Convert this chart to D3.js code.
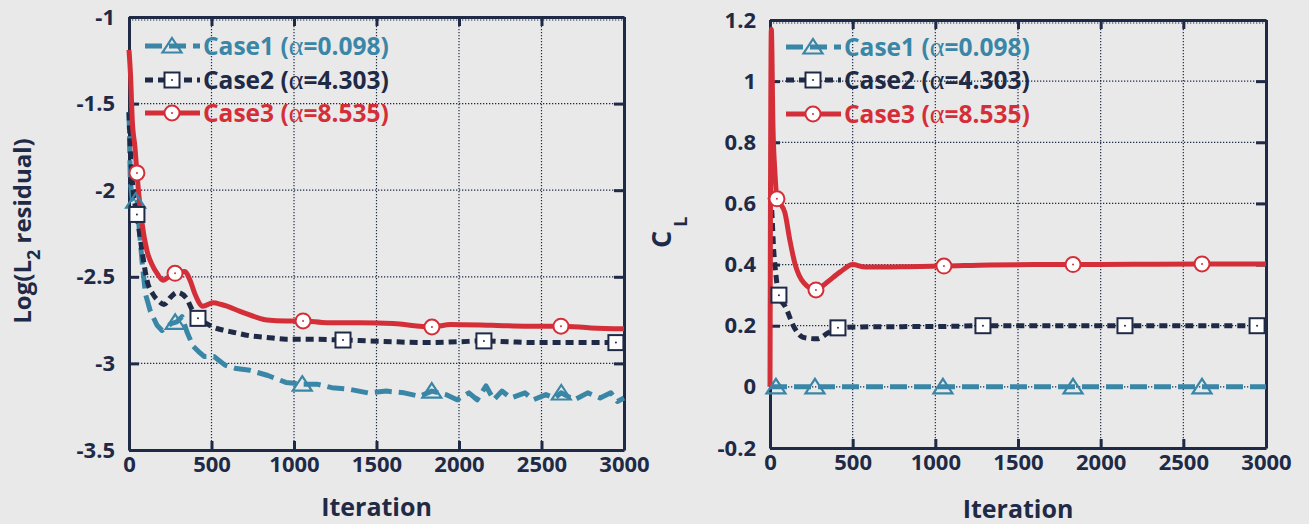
<!DOCTYPE html>
<html><head><meta charset="utf-8">
<script src="https://cdn.jsdelivr.net/npm/d3@7"></script>
<style>
html,body{margin:0;padding:0;background:#e9e9e9;}
svg text{font-family:"Open Sans","Noto Sans",sans-serif;font-weight:700;}
</style></head>
<body>
<svg id="chart" width="1309" height="524"></svg>
<script>
// ---------- data ----------
const iterTicks = [0, 500, 1000, 1500, 2000, 2500, 3000];
const resTicks = [-3.5, -3, -2.5, -2, -1.5, -1];
const clTicks = [-0.2, 0, 0.2, 0.4, 0.6, 0.8, 1, 1.2];
const caseNames = ["Case1", "Case2", "Case3"];
const caseAlphas = ["0.098", "4.303", "8.535"];

// Left panel: Log(L2 residual)
const res1Iter = [0, 8, 20, 36, 48, 60, 80, 100, 130, 170, 200, 230, 255, 290, 321, 352, 388, 420, 455, 515, 582, 650, 733, 842, 951, 1050, 1140, 1230, 1340, 1448, 1560, 1667, 1760, 1835, 1920, 1988, 2060, 2110, 2164, 2210, 2260, 2315, 2400, 2450, 2527, 2580, 2618, 2700, 2780, 2855, 2920, 2960, 3000];
const res1Val = [-1.55, -1.95, -2.05, -2.07, -2.05, -2.2, -2.42, -2.6, -2.7, -2.78, -2.81, -2.79, -2.77, -2.76, -2.73, -2.82, -2.90, -2.93, -2.96, -2.96, -3.01, -3.03, -3.04, -3.07, -3.11, -3.12, -3.12, -3.14, -3.15, -3.17, -3.16, -3.17, -3.19, -3.16, -3.18, -3.21, -3.17, -3.21, -3.13, -3.21, -3.16, -3.20, -3.17, -3.21, -3.18, -3.20, -3.17, -3.21, -3.17, -3.20, -3.17, -3.22, -3.20];
const res2Iter = [0, 10, 25, 48, 79, 109, 145, 180, 212, 250, 291, 345, 388, 418, 470, 509, 580, 630, 730, 836, 950, 1050, 1297, 1450, 1600, 1800, 2000, 2151, 2300, 2450, 2600, 2800, 2951, 3000];
const res2Val = [-1.55, -1.8, -2.0, -2.14, -2.35, -2.52, -2.6, -2.64, -2.66, -2.62, -2.59, -2.62, -2.70, -2.74, -2.77, -2.79, -2.81, -2.82, -2.84, -2.85, -2.86, -2.86, -2.865, -2.87, -2.875, -2.88, -2.875, -2.87, -2.875, -2.88, -2.88, -2.88, -2.88, -2.875];
const res3Iter = [0, 10, 20, 36, 48, 79, 109, 140, 170, 206, 240, 279, 339, 370, 400, 448, 509, 560, 594, 673, 760, 836, 950, 1055, 1200, 1400, 1600, 1836, 1950, 2200, 2400, 2618, 2800, 3000];
const res3Val = [-1.19, -1.35, -1.6, -1.75, -1.90, -2.19, -2.35, -2.43, -2.48, -2.52, -2.50, -2.48, -2.47, -2.52, -2.60, -2.67, -2.65, -2.66, -2.67, -2.70, -2.73, -2.75, -2.755, -2.755, -2.765, -2.765, -2.77, -2.79, -2.775, -2.78, -2.785, -2.785, -2.795, -2.80];
const res1Marks = [40, 280, 1050, 1835, 2620];
const res2Marks = [48, 418, 1297, 2151, 2951];
const res3Marks = [48, 279, 1055, 1836, 2618];

// Right panel: CL
const cl1Iter = [0, 3000];
const cl1Val = [0, 0];
const cl2Iter = [0, 10, 22, 35, 54, 95, 145, 197, 250, 285, 350, 411, 535, 800, 1100, 1288, 1700, 2147, 2600, 2946, 3000];
const cl2Val = [0.62, 0.58, 0.45, 0.37, 0.30, 0.26, 0.196, 0.163, 0.158, 0.157, 0.176, 0.193, 0.196, 0.197, 0.198, 0.20, 0.20, 0.20, 0.20, 0.20, 0.20];
const cl3Iter = [0, 8, 18, 30, 42, 60, 90, 120, 150, 205, 278, 340, 425, 500, 575, 700, 835, 1052, 1330, 1600, 1833, 2200, 2613, 3000];
const cl3Val = [0.0, 1.17, 0.85, 0.70, 0.615, 0.60, 0.57, 0.48, 0.405, 0.34, 0.317, 0.34, 0.376, 0.40, 0.392, 0.392, 0.393, 0.395, 0.399, 0.40, 0.40, 0.401, 0.402, 0.402];
const cl1Marks = [36, 272, 1046, 1833, 2613];
const cl2Marks = [54, 411, 1288, 2147, 2946];
const cl3Marks = [42, 278, 1052, 1833, 2613];

// ---------- style ----------
const NAVY = "#1f2a46", TEAL = "#3a86a6", RED = "#d42f38";
const colors = [TEAL, NAVY, RED];
const dashes = ["17,7", "8,5", null];

const svg = d3.select("#chart");

function interp(xs, ys, t) {
  const i = d3.bisectRight(xs, t);
  if (i <= 0) return ys[0];
  if (i >= xs.length) return ys[ys.length - 1];
  const f = (t - xs[i - 1]) / (xs[i] - xs[i - 1]);
  return ys[i - 1] + f * (ys[i] - ys[i - 1]);
}

function drawMarker(g, kind, cx, cy, color) {
  const m = g.append("g").attr("transform", `translate(${cx},${cy})`);
  if (kind === 0) {
    m.append("path").attr("d", "M0,-8L9.5,6.5L-9.5,6.5Z")
      .attr("fill", "none").attr("stroke", color).attr("stroke-width", 2.2);
  } else if (kind === 1) {
    m.append("rect").attr("x", -7.5).attr("y", -7.5).attr("width", 15).attr("height", 15)
      .attr("fill", "#fff").attr("stroke", color).attr("stroke-width", 2);
    m.append("circle").attr("r", 1).attr("fill", color);
  } else {
    m.append("circle").attr("r", 7.5).attr("fill", "#fff").attr("stroke", color).attr("stroke-width", 2);
    m.append("circle").attr("r", 1).attr("fill", color);
  }
}

function panel(cfg) {
  const x = d3.scaleLinear().domain([0, 3000]).range([cfg.x0, cfg.x1]);
  const y = d3.scaleLinear().domain([cfg.yTicks[0], cfg.yTicks[cfg.yTicks.length - 1]]).range([cfg.y1, cfg.y0]);
  const g = svg.append("g");

  // grid
  const grid = g.append("g").attr("stroke", NAVY).attr("stroke-width", 1.2).attr("stroke-dasharray", "1.3,1.7");
  grid.selectAll("line.v").data(iterTicks.slice(1)).join("line")
    .attr("x1", d => x(d)).attr("x2", d => x(d)).attr("y1", cfg.y0).attr("y2", cfg.y1);
  grid.selectAll("line.h").data(cfg.yTicks.slice(1)).join("line")
    .attr("y1", d => y(d) + (d === cfg.yTicks[cfg.yTicks.length - 1] ? 3 : 0))
    .attr("y2", d => y(d) + (d === cfg.yTicks[cfg.yTicks.length - 1] ? 3 : 0))
    .attr("x1", cfg.x0).attr("x2", cfg.x1);

  // axes
  const styleAxis = sel => {
    sel.selectAll(".domain").attr("stroke", NAVY).attr("stroke-width", 3);
    sel.selectAll(".tick line").attr("stroke", NAVY).attr("stroke-width", 3);
    sel.selectAll(".tick text").attr("fill", NAVY).style("font-size", "22px");
  };
  const fmt = d => String(d);
  g.append("g").attr("transform", `translate(0,${cfg.y1})`)
    .call(d3.axisBottom(x).tickValues(iterTicks).tickSize(-9).tickSizeOuter(0).tickPadding(6).tickFormat(fmt))
    .call(styleAxis);
  g.append("g").attr("transform", `translate(0,${cfg.y0})`)
    .call(d3.axisTop(x).tickValues(iterTicks).tickSize(-9).tickSizeOuter(0).tickFormat(""))
    .call(styleAxis);
  g.append("g").attr("transform", `translate(${cfg.x0},0)`)
    .call(d3.axisLeft(y).tickValues(cfg.yTicks).tickSize(-10).tickSizeOuter(0).tickPadding(14).tickFormat(fmt))
    .call(styleAxis);
  g.append("g").attr("transform", `translate(${cfg.x1},0)`)
    .call(d3.axisRight(y).tickValues(cfg.yTicks).tickSize(-10).tickSizeOuter(0).tickFormat(""))
    .call(styleAxis);

  // series
  cfg.series.forEach((s, i) => {
    const line = d3.line().x(d => x(d[0])).y(d => y(d[1]))
      .curve(s.noisy ? d3.curveLinear : d3.curveMonotoneX);
    g.append("path").datum(d3.zip(s.iter, s.val))
      .attr("d", line).attr("fill", "none").attr("stroke", colors[i])
      .attr("stroke-width", 5).attr("stroke-linejoin", "round")
      .attr("stroke-dasharray", dashes[i]);
  });
  cfg.series.forEach((s, i) => {
    s.marks.forEach(t => drawMarker(g, i, x(t), y(interp(s.iter, s.val, t)), colors[i]));
  });

  // legend
  caseNames.forEach((name, i) => {
    const ly = cfg.legY[i];
    g.append("line").attr("x1", cfg.legX).attr("x2", cfg.legX + 55).attr("y1", ly).attr("y2", ly)
      .attr("stroke", colors[i]).attr("stroke-width", 5).attr("stroke-dasharray", dashes[i]);
    drawMarker(g, i, cfg.legX + 27, ly, colors[i]);
    const t = g.append("text").attr("x", cfg.legX + 58).attr("y", ly).attr("dy", "0.36em")
      .attr("fill", colors[i]).style("font-size", "24.5px");
    t.append("tspan").text(name + " (");
    t.append("tspan").style("font-family", "'Liberation Serif','DejaVu Serif',serif").style("font-weight", 400).style("font-size", "28px").text("α");
    t.append("tspan").text("=" + caseAlphas[i] + ")");
  });

  // x title
  g.append("text").attr("x", (cfg.x0 + cfg.x1) / 2).attr("y", cfg.xTitleY)
    .attr("text-anchor", "middle").attr("fill", NAVY).style("font-size", "25px").text("Iteration");
  return g;
}

panel({
  x0: 129, x1: 624, y0: 17, y1: 450, yTicks: resTicks, legX: 145, legY: [46, 80, 113], xTitleY: 516,
  series: [
    {iter: res1Iter, val: res1Val, marks: res1Marks, noisy: true},
    {iter: res2Iter, val: res2Val, marks: res2Marks},
    {iter: res3Iter, val: res3Val, marks: res3Marks}
  ]
});
panel({
  x0: 770, x1: 1266, y0: 20, y1: 448, yTicks: clTicks, legX: 786, legY: [47, 80, 114], xTitleY: 518,
  series: [
    {iter: cl1Iter, val: cl1Val, marks: cl1Marks},
    {iter: cl2Iter, val: cl2Val, marks: cl2Marks},
    {iter: cl3Iter, val: cl3Val, marks: cl3Marks}
  ]
});

// y titles
const t1 = svg.append("text").attr("transform", "translate(31,231) rotate(-90)")
  .attr("text-anchor", "middle").attr("fill", NAVY).style("font-size", "24px");
t1.append("tspan").text("Log(L");
t1.append("tspan").attr("dy", 9).style("font-size", "18px").text("2");
t1.append("tspan").attr("dy", -9).text(" residual)");

const t2 = svg.append("text").attr("transform", "translate(671,248) rotate(-90)")
  .attr("fill", NAVY).style("font-size", "27px");
t2.append("tspan").text("C");
t2.append("tspan").attr("dx", 4).attr("dy", 16).style("font-size", "18px").text("L");
</script>
</body></html>
